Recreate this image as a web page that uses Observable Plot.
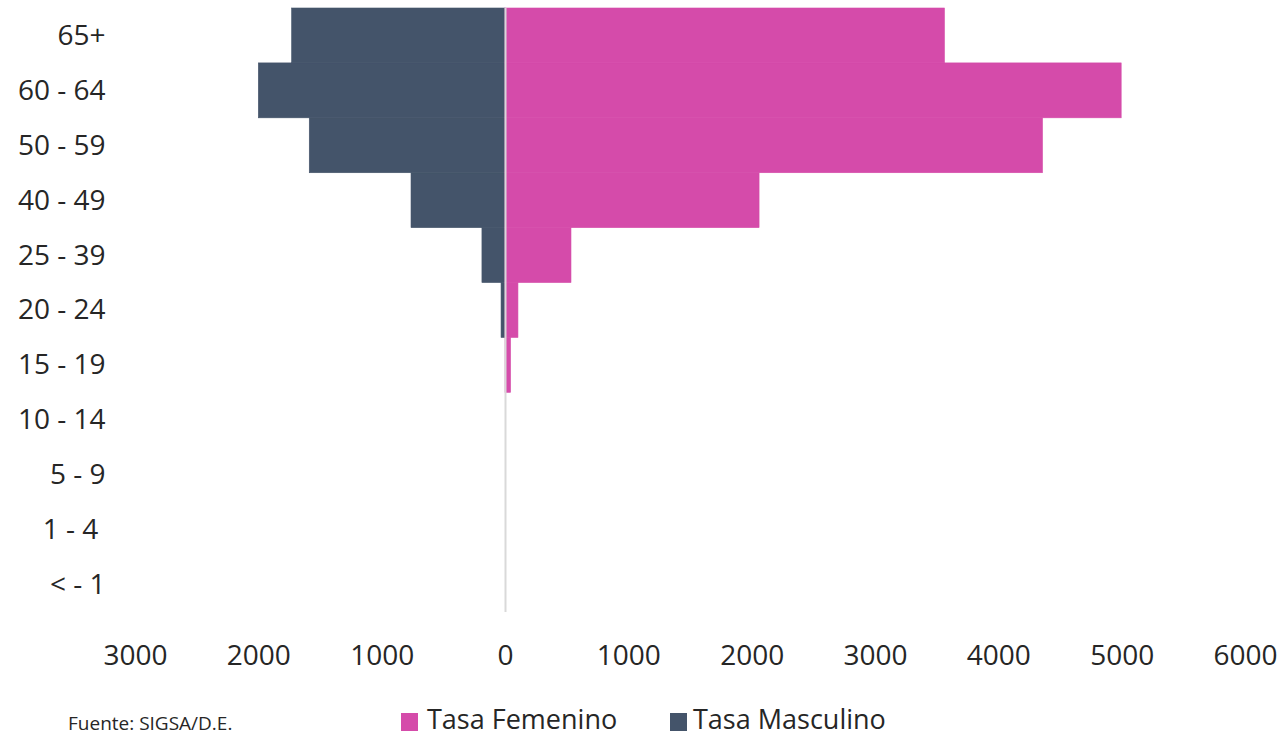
<!DOCTYPE html>
<html>
<head>
<meta charset="utf-8">
<script src="https://cdn.jsdelivr.net/npm/d3@7"></script>
<script src="https://cdn.jsdelivr.net/npm/@observablehq/plot@0.6"></script>
<style>
  html, body { margin: 0; padding: 0; background: #fff; }
  #wrap { position: relative; width: 1281px; height: 738px; overflow: hidden; }
  #chart { position: absolute; left: 0; top: 0; }
  .foot { position: absolute; font-family: "Open Sans", sans-serif; color: #262626; white-space: nowrap; }
  .sw { position: absolute; width: 17px; height: 18px; }
</style>
</head>
<body>
<div id="wrap">
  <div id="chart"></div>
  <div class="foot" id="src" style="left:68px; top:714px; font-size:19px; line-height:19px;"></div>
  <div class="sw" style="left:401px; top:713px; background:#D54BAA;"></div>
  <div class="foot" id="lf" style="left:427px; top:704px; font-size:27px; line-height:30px;"></div>
  <div class="sw" style="left:670px; top:713px; background:#44546A;"></div>
  <div class="foot" id="lm" style="left:693px; top:704px; font-size:27px; line-height:30px;"></div>
</div>
<script>
// Age groups, bottom to top
const categories = ["< - 1", "1 - 4\u00a0", "5 - 9", "10 - 14", "15 - 19", "20 - 24", "25 - 39", "40 - 49", "50 - 59", "60 - 64", "65+"];
const femenino = [0, 0, 0, 0, 45, 105, 535, 2060, 4358, 4996, 3563];
const masculino = [0, 0, 0, 0, 0, 32, 187, 762, 1587, 2000, 1730];
const xTicks = [-3000, -2000, -1000, 0, 1000, 2000, 3000, 4000, 5000, 6000];
const seriesNames = ["Tasa Femenino", "Tasa Masculino"];
const sourceText = "Fuente: SIGSA/D.E.";

const fData = categories.map((c, i) => ({age: c, value: femenino[i]}));
const mData = categories.map((c, i) => ({age: c, value: -masculino[i]}));

const chart = Plot.plot({
  width: 1281,
  height: 700,
  marginTop: 8,
  marginBottom: 88,
  marginLeft: 135,
  marginRight: 36,
  style: {fontFamily: "Open Sans", fontSize: "28px", color: "#262626", background: "white"},
  x: {domain: [-3000, 6000], ticks: xTicks, tickFormat: d => String(Math.abs(d)), tickSize: 0, tickPadding: 33, label: null},
  y: {domain: categories.slice().reverse(), padding: 0, round: false, tickSize: 0, tickPadding: 30, label: null},
  marks: [
    Plot.barX(mData, {x: "value", y: "age", fill: "#44546A", stroke: "#44546A", strokeWidth: 0.6}),
    Plot.barX(fData, {x: "value", y: "age", fill: "#D54BAA", stroke: "#D54BAA", strokeWidth: 0.6}),
    Plot.ruleX([0], {stroke: "#D9D9D9", strokeWidth: 2})
  ]
});
document.getElementById("chart").appendChild(chart);
document.getElementById("src").textContent = sourceText;
document.getElementById("lf").textContent = seriesNames[0];
document.getElementById("lm").textContent = seriesNames[1];
</script>
</body>
</html>
